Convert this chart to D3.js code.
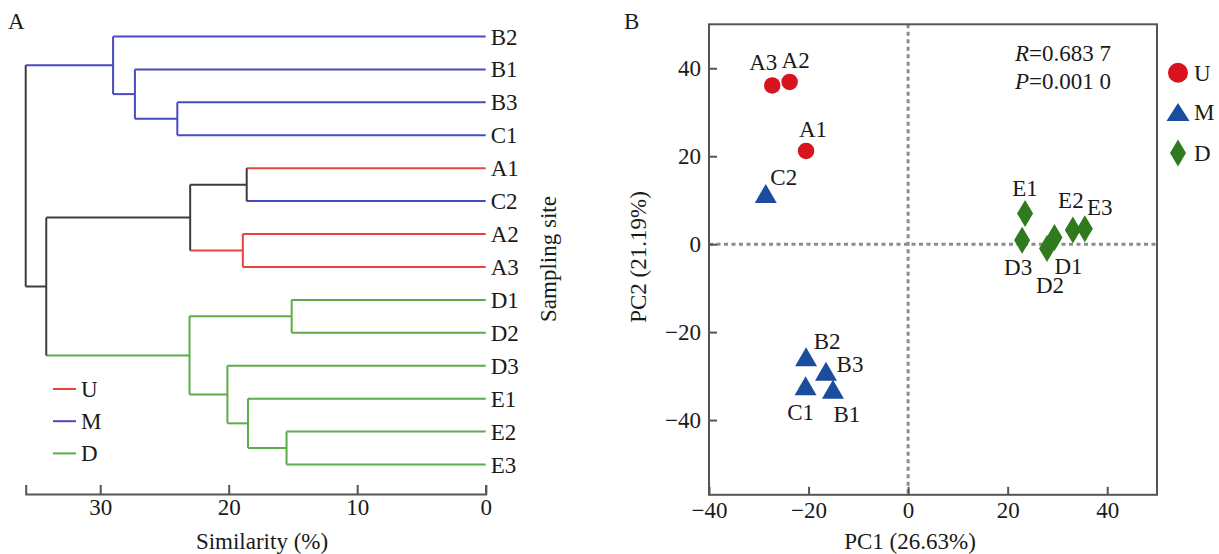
<!DOCTYPE html>
<html>
<head>
<meta charset="utf-8">
<script src="https://cdn.jsdelivr.net/npm/d3@7"></script>
<style>
  body { margin: 0; background: #fff; }
  text { font-family: "Liberation Serif", "Times New Roman", serif; fill: #1a1a1a; }
</style>
</head>
<body>
<script>
// ---- dendrogram data (panel A) ----
var leaves = ["B2", "B1", "B3", "C1", "A1", "C2", "A2", "A3", "D1", "D2", "D3", "E1", "E2", "E3"];
var leafGroups = ["M", "M", "M", "M", "U", "M", "U", "U", "D", "D", "D", "D", "D", "D"];
// each merge: [child, child, similarity %] -> becomes node "n" + index
var merges = [
  ["B3", "C1", 24.0],
  ["B1", "n0", 27.3],
  ["B2", "n1", 29.0],
  ["A1", "C2", 18.6],
  ["A2", "A3", 18.9],
  ["n3", "n4", 23.0],
  ["D1", "D2", 15.1],
  ["E2", "E3", 15.5],
  ["E1", "n7", 18.5],
  ["D3", "n8", 20.1],
  ["n6", "n9", 23.05],
  ["n5", "n10", 34.2],
  ["n2", "n11", 35.8]
];
var simTicks = [0, 10, 20, 30];

// ---- PCA data (panel B) ----
var sites = ["A1", "A2", "A3", "B1", "B2", "B3", "C1", "C2", "D1", "D2", "D3", "E1", "E2", "E3"];
var siteGroups = ["U", "U", "U", "M", "M", "M", "M", "M", "D", "D", "D", "D", "D", "D"];
var pc1 = [-20.5, -23.8, -27.3, -15.1, -20.5, -16.5, -20.6, -28.6, 29.4, 27.9, 22.9, 23.5, 33.1, 35.5];
var pc2 = [21.2, 36.9, 36.1, -33.0, -25.6, -28.9, -32.2, 11.5, 1.5, -1.0, 0.9, 7.0, 3.2, 3.5];
var pcTicks = [-40, -20, 0, 20, 40];
var groupNames = ["U", "M", "D"];

var lineColor = { U: "#e8453c", M: "#4a4ac4", D: "#5cab48", mix: "#3c3c3c" };
var markColor = { U: "#d8141e", M: "#1c4c9e", D: "#2f7a1f" };
var fs = "23px";

var svg = d3.select("body").append("svg").attr("width", 1219).attr("height", 554);

// ================= Panel A =================
var xs = d3.scaleLinear().domain([0, 35.8]).range([485.7, 25.7]);
var ys = d3.scalePoint().domain(leaves).range([36.5, 464.5]);

var nodes = {};
leaves.forEach(function(name, i) {
  nodes[name] = { x: xs(0), y: ys(name), groups: [leafGroups[i]] };
});
merges.forEach(function(m, i) {
  var a = nodes[m[0]], b = nodes[m[1]];
  var g = Array.from(new Set(a.groups.concat(b.groups)));
  nodes["n" + i] = { x: xs(m[2]), y: (a.y + b.y) / 2, groups: g, kids: [a, b] };
});

function colorOf(n) { return n.groups.length == 1 ? lineColor[n.groups[0]] : lineColor.mix; }

var dendro = svg.append("g").attr("fill", "none").attr("stroke-width", 2);
merges.forEach(function(m, i) {
  var p = nodes["n" + i];
  p.kids.forEach(function(k) {
    dendro.append("line").attr("x1", p.x).attr("x2", k.x).attr("y1", k.y).attr("y2", k.y)
      .attr("stroke", colorOf(k));
  });
  dendro.append("line").attr("x1", p.x).attr("x2", p.x)
    .attr("y1", p.kids[0].y).attr("y2", p.kids[1].y).attr("stroke", colorOf(p));
});

svg.append("g").selectAll("text").data(leaves).enter().append("text")
  .attr("x", xs(0) + 5).attr("y", function(d) { return ys(d) + 8; })
  .style("font-size", fs).text(function(d) { return d; });

var axA = svg.append("g").attr("transform", "translate(0,494)")
  .call(d3.axisBottom(xs).tickValues(simTicks).tickSize(-9).tickSizeOuter(-9).tickPadding(5));
axA.select(".domain").attr("stroke", "#555").attr("stroke-width", 2);
axA.selectAll(".tick line").attr("stroke", "#555").attr("stroke-width", 2);
axA.selectAll(".tick text").style("font-size", fs).style("font-family", "Liberation Serif").attr("fill", "#1a1a1a");

svg.append("text").attr("x", 262).attr("y", 549).attr("text-anchor", "middle")
  .style("font-size", fs).text("Similarity (%)");
svg.append("text").attr("transform", "translate(556,259) rotate(-90)").attr("text-anchor", "middle")
  .style("font-size", fs).text("Sampling site");
svg.append("text").attr("x", 8).attr("y", 29).style("font-size", fs).text("A");

var legA = svg.append("g").selectAll("g").data(groupNames).enter().append("g")
  .attr("transform", function(d, i) { return "translate(53," + (389 + i * 32.2) + ")"; });
legA.append("line").attr("x1", 0).attr("x2", 23).attr("stroke-width", 2)
  .attr("stroke", function(d) { return lineColor[d]; });
legA.append("text").attr("x", 28).attr("y", 8).style("font-size", fs).text(function(d) { return d; });

// ================= Panel B =================
var px = d3.scaleLinear().domain([-40, 50]).range([709, 1157]);
var py = d3.scaleLinear().domain([-57, 50]).range([494.8, 24.3]);

svg.append("line").attr("x1", px(0)).attr("x2", px(0)).attr("y1", py(50)).attr("y2", py(-57))
  .attr("stroke", "#8c8c8c").attr("stroke-width", 3).attr("stroke-dasharray", "4,3.5");
svg.append("line").attr("x1", px(-40)).attr("x2", px(50)).attr("y1", py(0)).attr("y2", py(0))
  .attr("stroke", "#8c8c8c").attr("stroke-width", 3).attr("stroke-dasharray", "4,3.5");

var minusFmt = function(d) { return d < 0 ? "\u2212" + Math.abs(d) : d; };
var axX = svg.append("g").attr("transform", "translate(0," + py(-57) + ")")
  .call(d3.axisBottom(px).tickValues(pcTicks).tickSize(-8).tickSizeOuter(0).tickPadding(7).tickFormat(minusFmt));
var axY = svg.append("g").attr("transform", "translate(" + px(-40) + ",0)")
  .call(d3.axisLeft(py).tickValues(pcTicks).tickSize(-8).tickSizeOuter(0).tickPadding(8).tickFormat(minusFmt));
[axX, axY].forEach(function(a) {
  a.select(".domain").remove();
  a.selectAll(".tick line").attr("stroke", "#555").attr("stroke-width", 2);
  a.selectAll(".tick text").style("font-size", fs).style("font-family", "Liberation Serif").attr("fill", "#1a1a1a");
});
svg.append("rect").attr("x", px(-40)).attr("y", py(50)).attr("width", px(50) - px(-40))
  .attr("height", py(-57) - py(50)).attr("fill", "none").attr("stroke", "#555").attr("stroke-width", 2);

function shape(g, big) {
  if (g == "U") return d3.symbol().type(d3.symbolCircle).size(Math.PI * (big ? 100 : 68))();
  if (g == "M") { var w = big ? 11.5 : 11, h = big ? 18 : 19; return "M0," + (-h / 2) + "L" + w + "," + (h / 2) + "L" + (-w) + "," + (h / 2) + "Z"; }
  var dw = 8, dh = 13.5;
  return "M0," + (-dh) + "L" + dw + ",0L0," + dh + "L" + (-dw) + ",0Z";
}

var labelOffset = {
  A1: [7, -22], A2: [6, -22], A3: [-9, -23], C2: [18, -17],
  B2: [21, -16], B3: [24, -7], C1: [-5, 26], B1: [14, 25],
  E1: [0, -25], E2: [-2, -30], E3: [15, -22], D3: [-4, 27], D1: [14, 28], D2: [3, 36]
};

var pts = svg.append("g").selectAll("g").data(sites).enter().append("g")
  .attr("transform", function(d, i) { return "translate(" + px(pc1[i]) + "," + py(pc2[i]) + ")"; });
pts.append("path").attr("d", function(d, i) { return shape(siteGroups[i], false); })
  .attr("fill", function(d, i) { return markColor[siteGroups[i]]; });
pts.append("text").attr("text-anchor", "middle")
  .attr("x", function(d) { return labelOffset[d][0]; })
  .attr("y", function(d) { return labelOffset[d][1] + 8; })
  .style("font-size", fs).text(function(d) { return d; });

var stats = svg.append("g").style("font-size", fs);
var r = stats.append("text").attr("x", 1015).attr("y", 61);
r.append("tspan").style("font-style", "italic").text("R");
r.append("tspan").text("=0.683 7");
var p = stats.append("text").attr("x", 1015).attr("y", 89);
p.append("tspan").style("font-style", "italic").text("P");
p.append("tspan").text("=0.001 0");

svg.append("text").attr("x", 910).attr("y", 549).attr("text-anchor", "middle")
  .style("font-size", fs).text("PC1 (26.63%)");
svg.append("text").attr("transform", "translate(646,257) rotate(-90)").attr("text-anchor", "middle")
  .style("font-size", fs).text("PC2 (21.19%)");
svg.append("text").attr("x", 624).attr("y", 29).style("font-size", fs).text("B");

var legB = svg.append("g").selectAll("g").data(groupNames).enter().append("g")
  .attr("transform", function(d, i) { return "translate(1178," + [72.7, 112, 153][i] + ")"; });
legB.append("path").attr("d", function(d) { return shape(d, true); })
  .attr("fill", function(d) { return markColor[d]; });
legB.append("text").attr("x", 16).attr("y", 8).style("font-size", fs).text(function(d) { return d; });
</script>
</body>
</html>
